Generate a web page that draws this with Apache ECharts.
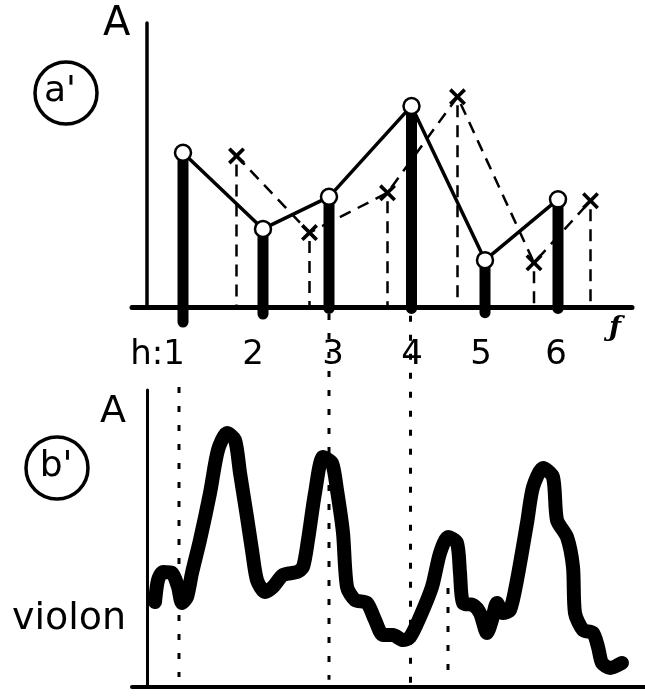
<!DOCTYPE html>
<html>
<head>
<meta charset="utf-8">
<script src="https://cdn.jsdelivr.net/npm/echarts@6/dist/echarts.min.js"></script>
<style>
html,body{margin:0;padding:0;background:#fff;}
#c{width:645px;height:696px;}
</style>
</head>
<body>
<div id="c"></div>
<script>
// ---- data (a') : partials spectrum ----
var circleX = [7.2, 23.2, 36.4, 52.9, 67.6, 82.2];
var circleA = [54.3, 27.5, 38.8, 70.8, 16.5, 37.9];
var stemBase = [-5.3, -2.5, -0.5, -0.5, -2.0, -0.5];
var crossX = [17.9, 32.5, 48.1, 62.1, 77.4, 88.7];
var crossA = [53.2, 26.2, 40.2, 74.0, 15.6, 37.4];
var harmonicLabels = ['h:1', '2', '3', '4', '5', '6'];
var labelX = [2.1, 21.2, 37.2, 53.0, 66.8, 81.8];
var labelA = -16.9;

// ---- data (b') : violon envelope ----
var waveX = [1.6,2.2,3.2,5.0,6.2,7.0,8.0,9.0,10.6,12.6,14.2,16.0,17.6,18.6,20.0,21.0,22.0,23.6,25.2,27.2,
  30.0,31.2,32.2,33.6,35.2,37.0,38.0,39.2,40.0,41.6,44.0,45.6,47.2,49.2,51.2,52.6,54.6,57.0,58.6,60.2,
  62.0,62.6,63.2,65.2,66.6,68.0,69.0,70.0,71.2,72.6,74.0,76.0,77.2,79.2,81.2,82.0,84.0,85.2,85.6,87.2,
  89.2,90.2,91.0,92.6,95.0];
var waveA = [28.6,36.0,38.7,38.4,33.7,28.3,30.3,38.4,49.5,65.3,79.8,85.5,83.2,72.1,57.2,46.1,36.0,32.0,33.7,37.7,
  38.7,40.4,49.5,65.3,77.4,75.4,66.3,51.9,33.7,29.3,28.3,22.6,17.5,17.5,15.8,16.8,23.6,33.7,45.1,50.5,
  48.5,38.4,28.3,27.6,24.9,18.2,22.6,28.3,24.9,25.9,36.0,55.2,67.3,73.7,70.7,56.2,50.5,40.4,24.9,19.2,
  18.2,13.5,8.1,6.4,8.1];

// dotted guide lines linking harmonics to the envelope (bottom-panel units)
var guideX = [6.4, 36.4, 52.7, 60.2];
var guideTop = [101, 125.6, 125, 33.3];
var guideBottom = [3.4, 2.4, -1, 5.7];

var FONT = "'DejaVu Sans', sans-serif";
var xPath = 'path://M0,1.5L1.5,0L5,3.5L8.5,0L10,1.5L6.5,5L10,8.5L8.5,10L5,6.5L1.5,10L0,8.5L3.5,5Z';

function zip(a, b) { return a.map(function (v, i) { return [v, b[i]]; }); }

var chart = echarts.init(document.getElementById('c'), null, {renderer: 'canvas'});

function vline(widthPx, dash) {
  return function (params, api) {
    var p1 = api.coord([api.value(0), api.value(1)]);
    var p2 = api.coord([api.value(0), api.value(2)]);
    return {
      type: 'line',
      shape: {x1: p1[0], y1: p1[1], x2: p2[0], y2: p2[1]},
      style: {stroke: '#000', lineWidth: widthPx, lineCap: dash ? 'butt' : 'round', lineDash: dash || null}
    };
  };
}

var option = {
  backgroundColor: '#fff',
  animation: false,
  grid: [
    {left: 132, top: 23, width: 500, height: 284, outerBoundsMode: 'none', containLabel: false},
    {left: 132, top: 390, width: 513, height: 297, outerBoundsMode: 'none', containLabel: false}
  ],
  xAxis: [
    {type: 'value', gridIndex: 0, min: -3, max: 97,
      axisLine: {show: true, onZero: true, lineStyle: {color: '#000', width: 5}},
      axisTick: {show: false}, axisLabel: {show: false}, splitLine: {show: false}},
    {type: 'value', gridIndex: 1, min: -3, max: 99.6,
      axisLine: {show: true, onZero: true, lineStyle: {color: '#000', width: 4}},
      axisTick: {show: false}, axisLabel: {show: false}, splitLine: {show: false}}
  ],
  yAxis: [
    {type: 'value', gridIndex: 0, min: 0, max: 100,
      axisLine: {show: true, onZero: true, lineStyle: {color: '#000', width: 3.5}},
      axisTick: {show: false}, axisLabel: {show: false}, splitLine: {show: false}},
    {type: 'value', gridIndex: 1, min: 0, max: 100,
      axisLine: {show: true, onZero: true, lineStyle: {color: '#000', width: 3}},
      axisTick: {show: false}, axisLabel: {show: false}, splitLine: {show: false}}
  ],
  series: [
    {
      name: 'stems', type: 'custom', xAxisIndex: 0, yAxisIndex: 0, z: 2,
      renderItem: vline(11),
      data: circleX.map(function (x, i) { return [x, circleA[i], stemBase[i]]; })
    },
    {
      name: 'cross verticals', type: 'custom', xAxisIndex: 0, yAxisIndex: 0, z: 2,
      renderItem: vline(2.5, [12, 8]),
      data: crossX.map(function (x, i) { return [x, crossA[i] - 3, 0]; })
    },
    {
      name: 'crosses', type: 'line', xAxisIndex: 0, yAxisIndex: 0, z: 3,
      data: zip(crossX, crossA),
      lineStyle: {color: '#000', width: 2.5, type: [12, 8]},
      symbol: xPath, symbolSize: 17, symbolKeepAspect: true, showSymbol: true,
      itemStyle: {color: '#000'}
    },
    {
      name: 'partials', type: 'line', xAxisIndex: 0, yAxisIndex: 0, z: 4,
      data: zip(circleX, circleA),
      lineStyle: {color: '#000', width: 3.5},
      symbol: 'circle', symbolSize: 16, showSymbol: true,
      itemStyle: {color: '#fff', borderColor: '#000', borderWidth: 2.5}
    },
    {
      name: 'harmonic labels', type: 'scatter', xAxisIndex: 0, yAxisIndex: 0, clip: false,
      symbolSize: 0, itemStyle: {opacity: 1, color: '#000'},
      data: labelX.map(function (x, i) { return [x, labelA, harmonicLabels[i]]; }),
      label: {show: true, position: 'inside', color: '#000', opacity: 1, fontSize: 34, fontFamily: FONT,
        textBorderWidth: 0, formatter: function (p) { return p.value[2]; }}
    },
    {
      name: 'guides', type: 'custom', xAxisIndex: 1, yAxisIndex: 1, z: 1,
      renderItem: vline(3, [6, 13]),
      data: guideX.map(function (x, i) { return [x, guideTop[i], guideBottom[i]]; })
    },
    {
      name: 'violon', type: 'line', xAxisIndex: 1, yAxisIndex: 1, z: 5,
      data: zip(waveX, waveA), smooth: 0.25, showSymbol: false, symbol: 'none',
      lineStyle: {color: '#000', width: 14, cap: 'round', join: 'round'}
    }
  ],
  graphic: [
    {type: 'text', left: 103, top: 5, style: {text: 'A', fontSize: 40, fontFamily: FONT, fill: '#000'}},
    {type: 'circle', shape: {cx: 66, cy: 93, r: 31}, style: {fill: 'none', stroke: '#000', lineWidth: 3.5}},
    {type: 'text', x: 60, y: 92, style: {text: "a'", fontSize: 36, fontFamily: FONT, fill: '#000', align: 'center', verticalAlign: 'middle'}},
    {type: 'text', left: 100, top: 393, style: {text: 'A', fontSize: 38, fontFamily: FONT, fill: '#000'}},
    {type: 'circle', shape: {cx: 57, cy: 468, r: 31}, style: {fill: 'none', stroke: '#000', lineWidth: 3.5}},
    {type: 'text', x: 56, y: 467, style: {text: "b'", fontSize: 36, fontFamily: FONT, fill: '#000', align: 'center', verticalAlign: 'middle'}},
    {type: 'text', x: 12, y: 600, style: {text: 'violon', fontSize: 38, fontFamily: FONT, fill: '#000', align: 'left', verticalAlign: 'alphabetic'}},
    {type: 'text', x: 615, y: 329, style: {text: 'ƒ', fontSize: 28, fontFamily: "'DejaVu Serif', serif", fontStyle: 'italic', fontWeight: 'bold', fill: '#000', align: 'center', verticalAlign: 'middle'}}
  ]
};
chart.setOption(option);
</script>
</body>
</html>
